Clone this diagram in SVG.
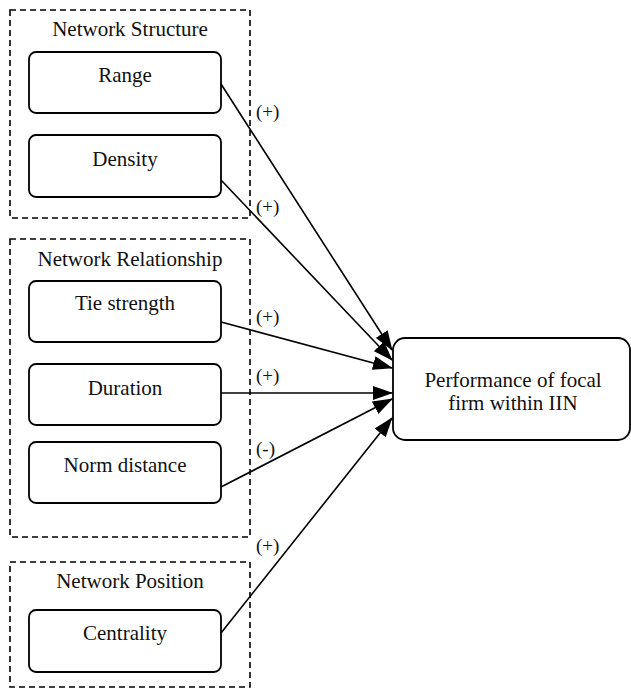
<svg xmlns="http://www.w3.org/2000/svg" width="631" height="689" viewBox="0 0 631 689">
<style>
.grp{fill:none;stroke:#000;stroke-width:1.6;stroke-dasharray:6 4}
.box{fill:#fff;stroke:#000;stroke-width:1.8}
.t{font-size:21px;fill:#111;text-anchor:middle}
.lbl{font-size:19px;fill:#111}
.c{fill:none;stroke:#000;stroke-width:1.6;marker-end:url(#ah)}
</style>
<defs>
<marker id="ah" viewBox="0 0 20 14" refX="19" refY="7" markerWidth="20" markerHeight="14" markerUnits="userSpaceOnUse" orient="auto">
<path d="M0,0 L20,7 L0,14 z" fill="#000"/>
</marker>
</defs>
<g font-family="Liberation Serif, DejaVu Serif, Times New Roman, Times, serif">
<g id="group-structure">
<rect class="grp" x="10" y="10" width="240" height="208"/>
<text class="t" x="130" y="36">Network Structure</text>
</g>
<g id="group-relationship">
<rect class="grp" x="10" y="239" width="240" height="298"/>
<text class="t" x="130" y="266">Network Relationship</text>
</g>
<g id="group-position">
<rect class="grp" x="10" y="562" width="240" height="125"/>
<text class="t" x="130" y="588">Network Position</text>
</g>
<g id="range"><rect class="box" x="29" y="52" width="192" height="61" rx="7"/><text class="t" x="125" y="82">Range</text></g>
<g id="density"><rect class="box" x="29" y="135" width="192" height="62" rx="7"/><text class="t" x="125" y="166">Density</text></g>
<g id="tie"><rect class="box" x="29" y="281" width="192" height="61" rx="7"/><text class="t" x="125" y="310">Tie strength</text></g>
<g id="duration"><rect class="box" x="29" y="364" width="192" height="61" rx="7"/><text class="t" x="125" y="395">Duration</text></g>
<g id="norm"><rect class="box" x="29" y="442" width="192" height="61" rx="7"/><text class="t" x="125" y="472">Norm distance</text></g>
<g id="centrality"><rect class="box" x="29" y="610" width="192" height="62" rx="7"/><text class="t" x="125" y="640">Centrality</text></g>
<g id="performance"><rect class="box" x="393" y="338" width="237" height="102" rx="12"/><text class="t" x="513" y="387">Performance of focal</text><text class="t" x="513" y="410">firm within IIN</text></g>
<g id="connectors">
<line class="c" x1="221" y1="84" x2="392" y2="350"/>
<line class="c" x1="221" y1="180" x2="392" y2="360"/>
<line class="c" x1="221" y1="322" x2="392" y2="368"/>
<line class="c" x1="221" y1="393" x2="392" y2="393"/>
<line class="c" x1="221" y1="487" x2="392" y2="399"/>
<line class="c" x1="221" y1="633" x2="392" y2="418"/>
<text class="lbl" x="256" y="118">(+)</text>
<text class="lbl" x="256" y="213">(+)</text>
<text class="lbl" x="256" y="323">(+)</text>
<text class="lbl" x="256" y="382">(+)</text>
<text class="lbl" x="256" y="455">(-)</text>
<text class="lbl" x="256" y="552">(+)</text>
</g>
</g>
</svg>
